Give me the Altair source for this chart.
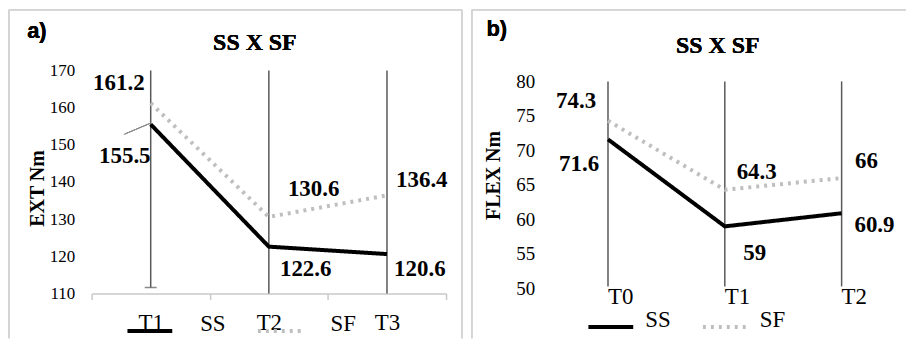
import altair as alt
import pandas as pd

# ---------------- data ----------------
series_names = ["SS", "SF"]

cats_a = ["T1", "T2", "T3"]
ss_a = [155.5, 122.6, 120.6]
sf_a = [161.2, 130.6, 136.4]
bar_top_a = [170, 170, 170]
bar_bottom_a = [111.6, 110, 110]
yticks_a = [110, 120, 130, 140, 150, 160, 170]

cats_b = ["T0", "T1", "T2"]
ss_b = [71.6, 59, 60.9]
sf_b = [74.3, 64.3, 66]
bar_top_b = [80, 80, 80]
bar_bottom_b = [50.3, 50.3, 50.3]
yticks_b = [50, 55, 60, 65, 70, 75, 80]

panel_title = "SS X SF"

# ---------------- styles ----------------
SERIF = "Liberation Serif"
SANS = "Liberation Sans"
FRAME = "#d4d4d4"
RULE = "#595959"

# label offsets (dx, dy) in pixels, per series / category
label_off_a = {
    ("SF", "T1"): (-32, -20), ("SS", "T1"): (-26, 32),
    ("SF", "T2"): (45, -28), ("SS", "T2"): (37, 22),
    ("SF", "T3"): (35, -15), ("SS", "T3"): (33, 15),
}
label_off_b = {
    ("SF", "T0"): (-32, -20), ("SS", "T0"): (-29, 25),
    ("SF", "T1"): (32, -18), ("SS", "T1"): (30, 27),
    ("SF", "T2"): (25, -17), ("SS", "T2"): (33, 12),
}


def fmt(v):
    return ("%g" % v)


def make_panel(tag, cats, ss, sf, top, bottom, yticks, ydom, ytitle, W, H,
               offsets, xaxis, ytitle_xy, ylabpad, ylabsize, legend_cfg,
               title_xy, frame, tag_xy, right_frame=True,
               cap=False, leader=None):
    pts = pd.DataFrame({
        "cat": cats + cats,
        "series": ["SS"] * len(cats) + ["SF"] * len(cats),
        "value": ss + sf,
    })
    pts["label"] = [fmt(v) for v in pts["value"]]
    bars = pd.DataFrame({"cat": cats, "top": top, "bottom": bottom})

    xscale = alt.Scale(type="band", domain=cats, paddingInner=0, paddingOuter=0)
    yscale = alt.Scale(domain=ydom, nice=False, zero=False)
    yaxis = alt.Axis(values=yticks, domain=False, ticks=False, grid=False,
                     labelFont=SERIF, labelFontSize=ylabsize, labelColor="black",
                     labelPadding=ylabpad, title=ytitle, titleFont=SERIF,
                     titleFontSize=20, titleFontWeight="bold", titleColor="black",
                     titleAngle=270, titleX=ytitle_xy[0], titleY=ytitle_xy[1],
                     titleAlign="center", titleBaseline="middle")

    def X():
        return alt.X("cat:N", scale=xscale, bandPosition=0.5, title=None, axis=xaxis)

    def Y(field):
        return alt.Y(field, scale=yscale, axis=yaxis, title=ytitle)

    layers = []

    # frame (left, top, right)
    fl, ft, fr, fb = frame
    layers.append(alt.Chart(bars).mark_rule(color=FRAME, strokeWidth=1.5).encode(
        x=alt.value(fl), y=alt.value(ft), y2=alt.value(fb)))
    layers.append(alt.Chart(bars).mark_rule(color=FRAME, strokeWidth=1.5).encode(
        x=alt.value(fl), x2=alt.value(fr), y=alt.value(ft)))
    if right_frame:
        layers.append(alt.Chart(bars).mark_rule(color=FRAME, strokeWidth=1.5).encode(
            x=alt.value(fr), y=alt.value(ft), y2=alt.value(fb)))

    # vertical rules (high-low lines)
    layers.append(alt.Chart(bars).mark_rule(color=RULE, strokeWidth=1.5).encode(
        x=X(), y=Y("top:Q"), y2="bottom:Q"))
    if cap:
        layers.append(alt.Chart(bars).transform_filter(
            alt.datum.cat == cats[0]).mark_tick(color=RULE, thickness=1.5, size=12).encode(
            x=X(), y=Y("bottom:Q")))

    # lines
    leg = alt.Legend(title=None, orient="none", direction="horizontal",
                     symbolType="stroke", symbolSize=2025, symbolStrokeWidth=4,
                     labelFont=SERIF, labelFontSize=23, labelColor="black",
                     labelBaseline="alphabetic", padding=0, **legend_cfg)
    layers.append(alt.Chart(pts).mark_line(strokeWidth=4, strokeCap="butt").encode(
        x=X(), y=Y("value:Q"),
        color=alt.Color("series:N", scale=alt.Scale(domain=series_names,
                        range=["#000000", "#bfbfbf"]), legend=leg),
        strokeDash=alt.StrokeDash("series:N", scale=alt.Scale(domain=series_names,
                                  range=[[1, 0], [3, 5]]), legend=leg),
    ))

    # value labels
    for s in series_names:
        for c in cats:
            dx, dy = offsets[(s, c)]
            layers.append(alt.Chart(pts).transform_filter(
                (alt.datum.series == s) & (alt.datum.cat == c)).mark_text(
                font=SERIF, fontSize=23, fontWeight="bold", color="black",
                dx=dx, dy=dy, align="center", baseline="middle").encode(
                x=X(), y=Y("value:Q"), text="label:N"))

    if leader is not None:
        (lx1, ly1, lx2, ly2) = leader
        layers.append(alt.Chart(bars).mark_rule(color="#8c8c8c", strokeWidth=1).encode(
            x=alt.value(lx1), y=alt.value(ly1), x2=alt.value(lx2), y2=alt.value(ly2)))

    # panel tag
    layers.append(alt.Chart(bars).mark_text(
        font=SANS, fontSize=22, fontWeight="bold", color="black",
        align="center", baseline="middle", text=tag).encode(
        x=alt.value(tag_xy[0]), y=alt.value(tag_xy[1])))

    # panel title
    layers.append(alt.Chart(bars).mark_text(
        font=SERIF, fontSize=24, fontWeight="bold", color="black",
        align="center", baseline="middle", text=panel_title).encode(
        x=alt.value(title_xy[0]), y=alt.value(title_xy[1])))

    return alt.layer(*layers).properties(width=W, height=H)


xaxis_a = alt.Axis(domain=True, domainColor="#c8c8c8", domainWidth=1.5,
                   ticks=True, tickColor="#c8c8c8", tickWidth=1.5, tickSize=6,
                   tickBand="extent", labelFont=SERIF, labelFontSize=23,
                   labelColor="black", labelPadding=12, labelAngle=0, grid=False)
xaxis_b = alt.Axis(domain=False, ticks=False, labelFont=SERIF, labelFontSize=23,
                   labelColor="black", labelPadding=-3, labelAlign="left",
                   labelAngle=0, grid=False)

panel_a = make_panel(
    "a)", cats_a, ss_a, sf_a, bar_top_a, bar_bottom_a, yticks_a, [110, 170],
    "EXT Nm", 356, 224, label_off_a, xaxis_a, (-54, 118), 17, 17,
    dict(legendX=34, legendY=237, labelOffset=26, columnPadding=24),
    (164, -28), (-83, -61, 372, 269), (-55, -40), right_frame=True, cap=True,
    leader=(33, 64, 59, 53))

panel_b = make_panel(
    "b)", cats_b, ss_b, sf_b, bar_top_b, bar_bottom_b, yticks_b, [50, 81.587],
    "FLEX Nm", 352, 219, label_off_b, xaxis_b, (-56, 105), 15, 19,
    dict(legendX=37, legendY=233, labelOffset=10, columnPadding=24),
    (169, -25), (-78, -61, 358, 269), (-53, -42), right_frame=False)

chart = alt.hconcat(panel_a, panel_b, spacing=8).resolve_scale(
    x="independent", y="independent", color="independent", strokeDash="independent"
).resolve_legend(color="independent", strokeDash="independent").properties(
    padding=0
).configure_view(stroke=None)

chart.save("out.html", embed_options={"renderer": "svg", "actions": False})
